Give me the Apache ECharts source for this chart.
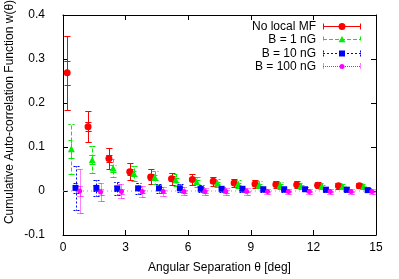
<!DOCTYPE html>
<html><head><meta charset="utf-8">
<script src="https://cdn.jsdelivr.net/npm/echarts@6/dist/echarts.min.js"></script>
<style>html,body{margin:0;padding:0;background:#fff}#c{width:399px;height:279px}</style>
</head><body><div id="c"></div>
<script>
const seriesNames = ['No local MF', 'B = 1 nG', 'B = 10 nG', 'B = 100 nG'];
const xTicks = [0, 3, 6, 9, 12, 15];
const yTicks = [-0.1, 0, 0.1, 0.2, 0.3, 0.4];

const thetaRed = [0.2,1.2,2.2,3.2,4.2,5.2,6.2,7.2,8.2,9.2,10.2,11.2,12.2,13.2,14.2];
const thetaGreen = [0.4,1.4,2.4,3.4,4.4,5.4,6.4,7.4,8.4,9.4,10.4,11.4,12.4,13.4,14.4];
const thetaBlue = [0.6,1.6,2.6,3.6,4.6,5.6,6.6,7.6,8.6,9.6,10.6,11.6,12.6,13.6,14.6];
const thetaMagenta = [0.8,1.8,2.8,3.8,4.8,5.8,6.8,7.8,8.8,9.8,10.8,11.8,12.8,13.8,14.8];

const wRed = [0.269,0.146,0.074,0.044,0.032,0.028,0.026,0.022,0.018,0.016,0.015,0.014,0.013,0.012,0.012];
const wGreen = [0.096,0.071,0.052,0.040,0.031,0.025,0.021,0.018,0.016,0.014,0.013,0.012,0.011,0.010,0.010];
const wBlue = [0.007,0.007,0.006,0.006,0.006,0.006,0.005,0.005,0.005,0.004,0.004,0.004,0.003,0.003,0.002];
const wMagenta = [0.000,-0.002,-0.001,-0.001,-0.001,-0.001,-0.001,-0.001,-0.001,-0.001,-0.001,-0.001,-0.001,-0.001,-0.001];

const errOuterRed = [0.084,0.035,0.024,0.020,0.017,0.014,0.012,0.010,0.010,0.009,0.008,0.008,0.007,0.007,0.006];
const errInnerRed = [0.027,0.010,0.008,0.007,0.006,0.005,0.004,0.004,0.003,0.003,0.003,0.003,0.002,0.002,0.002];
const errOuterGreen = [0.057,0.031,0.020,0.017,0.015,0.013,0.011,0.010,0.009,0.008,0.008,0.007,0.007,0.006,0.006];
const errInnerGreen = [0.021,0.010,0.008,0.006,0.005,0.004,0.004,0.003,0.003,0.003,0.003,0.002,0.002,0.002,0.002];
const errOuterBlue = [0.050,0.018,0.015,0.012,0.010,0.009,0.008,0.007,0.007,0.006,0.006,0.005,0.005,0.005,0.005];
const errInnerBlue = [0.012,0.006,0.005,0.004,0.004,0.003,0.003,0.003,0.002,0.002,0.002,0.002,0.002,0.002,0.002];
const errOuterMagenta = [0.050,0.020,0.016,0.012,0.010,0.009,0.008,0.007,0.007,0.006,0.006,0.005,0.005,0.005,0.005];
const errInnerMagenta = [0.012,0.006,0.005,0.004,0.004,0.003,0.003,0.003,0.002,0.002,0.002,0.002,0.002,0.002,0.002];

const colors = ['#ff0000', '#00ee00', '#0000ff', '#ff00ff'];
const dashes = [null, [4, 2], [2, 2], [1, 1]];
const symbols = ['circle', 'triangle', 'rect', 'circle'];
const symbolSizes = [7, 7, 6, 5];
const FONT = '"Liberation Sans", Arial, sans-serif';

const thetas = [thetaRed, thetaGreen, thetaBlue, thetaMagenta];
const ws = [wRed, wGreen, wBlue, wMagenta];
const outers = [errOuterRed, errOuterGreen, errOuterBlue, errOuterMagenta];
const inners = [errInnerRed, errInnerGreen, errInnerBlue, errInnerMagenta];

function lineStyleFor(s) {
  const st = { stroke: colors[s], lineWidth: 1, fill: 'none', opacity: 1 };
  if (dashes[s]) st.lineDash = dashes[s].slice();
  return st;
}

function errRender(s, capHalf) {
  return function (params, api) {
    const x = api.value(0), lo = api.value(1), hi = api.value(2);
    const a = api.coord([x, lo]), b = api.coord([x, hi]);
    const cx = Math.round(a[0]) + 0.5;
    const y1 = Math.round(a[1]) + 0.5, y2 = Math.round(b[1]) + 0.5;
    return {
      type: 'polyline',
      shape: { points: [[cx - capHalf, y1], [cx + capHalf, y1], [cx, y1], [cx, y2], [cx - capHalf, y2], [cx + capHalf, y2]] },
      style: lineStyleFor(s)
    };
  };
}

const series = [];
series.push({
  type: 'line', data: [[xTicks[0], 0], [xTicks[xTicks.length - 1], 0]], silent: true,
  symbol: 'none', lineStyle: { color: '#a0a0a0', type: [1, 3], width: 1 }, z: 1
});
for (let s = 0; s < 4; s++) {
  const outerData = thetas[s].map((t, i) => [t, ws[s][i] - outers[s][i], ws[s][i] + outers[s][i]]);
  const innerData = thetas[s].map((t, i) => [t, ws[s][i] - inners[s][i], ws[s][i] + inners[s][i]]);
  series.push({
    type: 'custom', name: seriesNames[s] + ' err', renderItem: errRender(s, 3),
    data: outerData, encode: { x: 0, y: [1, 2] }, z: 2 + s, silent: true,
    itemStyle: { color: colors[s] }
  });
  series.push({
    type: 'custom', name: seriesNames[s] + ' err2', renderItem: errRender(s, 3),
    data: innerData, encode: { x: 0, y: [1, 2] }, z: 2 + s, silent: true,
    itemStyle: { color: colors[s] }
  });
  series.push({
    type: 'scatter', name: seriesNames[s], symbol: symbols[s], symbolSize: symbolSizes[s],
    itemStyle: { color: colors[s], opacity: 1 },
    data: thetas[s].map((t, i) => [t, ws[s][i]]), z: 3 + s, silent: true
  });
}

const legendGraphics = [];
const legTextRight = 316, legLineX1 = 323, legLineX2 = 361, legTop = 26, legStep = 13.3;
for (let s = 0; s < 4; s++) {
  const y = Math.round(legTop + legStep * s) + 0.5;
  legendGraphics.push({ type: 'text', x: legTextRight, y: y, style: { text: seriesNames[s], font: '12px ' + FONT, fill: '#000', textAlign: 'right', textVerticalAlign: 'middle' } });
  legendGraphics.push({ type: 'line', shape: { x1: legLineX1, y1: y, x2: legLineX2, y2: y }, style: lineStyleFor(s) });
  legendGraphics.push({ type: 'line', shape: { x1: legLineX1 + 0.5, y1: y - 3, x2: legLineX1 + 0.5, y2: y + 3 }, style: lineStyleFor(s) });
  legendGraphics.push({ type: 'line', shape: { x1: legLineX2 - 0.5, y1: y - 3, x2: legLineX2 - 0.5, y2: y + 3 }, style: lineStyleFor(s) });
}
const mk = (s, cx, cy) => {
  const sz = symbolSizes[s] / 2;
  if (symbols[s] === 'circle') return { type: 'circle', shape: { cx, cy, r: sz }, style: { fill: colors[s] } };
  if (symbols[s] === 'rect') return { type: 'rect', shape: { x: cx - sz, y: cy - sz, width: 2 * sz, height: 2 * sz }, style: { fill: colors[s] } };
  return { type: 'polygon', shape: { points: [[cx, cy - sz], [cx + sz, cy + sz * 0.8], [cx - sz, cy + sz * 0.8]] }, style: { fill: colors[s] } };
};
for (let s = 0; s < 4; s++) legendGraphics.push(mk(s, 342, Math.round(legTop + legStep * s) + 0.5));

legendGraphics.push({
  type: 'text', x: 10, y: 112, rotation: Math.PI / 2,
  style: { text: 'Cumulative Auto-correlation Function w(θ)', font: '12px ' + FONT, fill: '#000', textAlign: 'center', textVerticalAlign: 'middle' }
});

const axisCommon = {
  type: 'value',
  axisLine: { show: true, onZero: false, lineStyle: { color: '#000', width: 1 } },
  axisTick: { show: true, inside: true, length: 5, lineStyle: { color: '#000' } },
  splitLine: { show: false },
  axisLabel: { color: '#000', fontSize: 12, fontFamily: FONT }
};

const chart = echarts.init(document.getElementById('c'), null, { renderer: 'canvas' });
chart.setOption({
  animation: false,
  backgroundColor: '#fff',
  tooltip: { show: false },
  grid: { left: 63, right: 23, top: 15, bottom: 42, containLabel: false },
  xAxis: [
    Object.assign({}, axisCommon, {
      min: xTicks[0], max: xTicks[xTicks.length - 1], interval: 3, position: 'bottom',
      axisLabel: Object.assign({}, axisCommon.axisLabel, { margin: 7 }),
      name: 'Angular Separation θ [deg]', nameLocation: 'middle', nameGap: 27,
      nameTextStyle: { color: '#000', fontSize: 12, fontFamily: FONT }
    }),
    Object.assign({}, axisCommon, {
      min: xTicks[0], max: xTicks[xTicks.length - 1], interval: 3, position: 'top',
      axisLabel: { show: false }
    })
  ],
  yAxis: [
    Object.assign({}, axisCommon, {
      min: yTicks[0], max: yTicks[yTicks.length - 1], interval: 0.1, position: 'left',
      axisLabel: Object.assign({}, axisCommon.axisLabel, { margin: 18 })
    }),
    Object.assign({}, axisCommon, {
      min: yTicks[0], max: yTicks[yTicks.length - 1], interval: 0.1, position: 'right',
      axisLabel: { show: false }
    })
  ],
  graphic: legendGraphics,
  series: series
});
</script>
</body></html>
